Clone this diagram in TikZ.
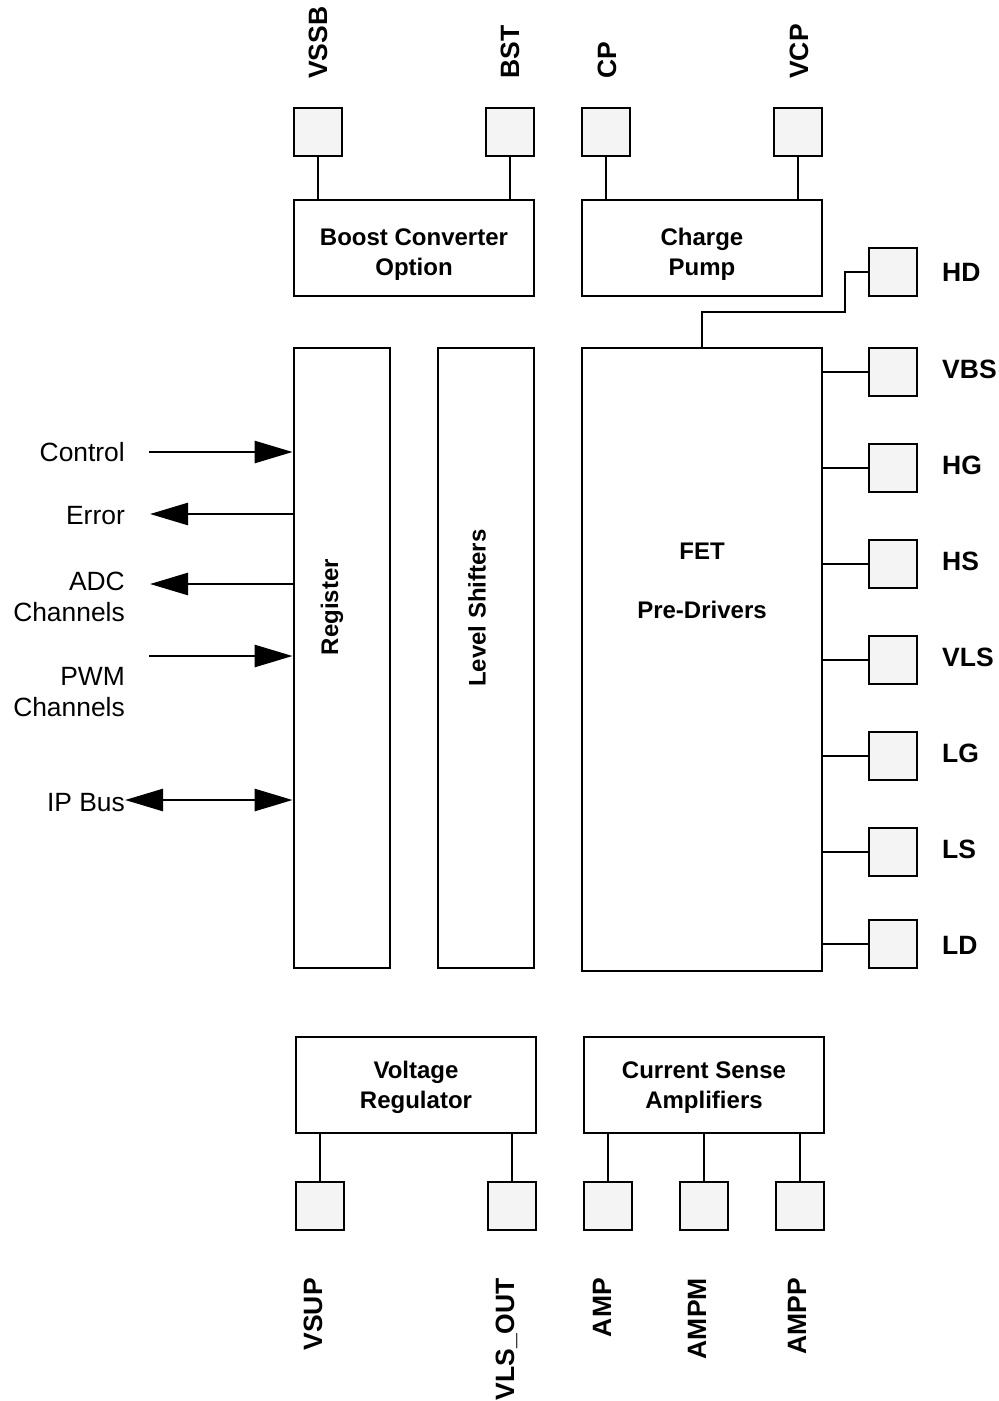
\documentclass[tikz,border=0pt]{standalone}
\usepackage{fontspec}
\setmainfont{Liberation Sans}
\usetikzlibrary{arrows.meta}
\definecolor{pinfill}{HTML}{F4F4F4}
\begin{document}
\begin{tikzpicture}[x=1pt,y=-1pt,
  blk/.style={draw, line width=2.8pt, inner sep=0pt},
  btxt/.style={inner sep=0pt, align=center, font=\fontsize{24}{30}\selectfont\bfseries},
  pin/.style={draw, line width=2.2pt, fill=pinfill, minimum size=48pt, inner sep=0pt},
  plbl/.style={inner sep=0pt, font=\fontsize{26.5}{30}\selectfont\bfseries},
  lbl/.style={inner sep=0pt, align=right, font=\fontsize{26.4}{31}\selectfont},
  wire/.style={line width=2pt},
  sig/.style={line width=2.6pt},
  bigtri/.tip={Triangle[length=38pt,width=22pt]}
]
\fill[white] (0,0) rectangle (999,1401);
\path[use as bounding box] (0,0) rectangle (999,1401);

% main blocks
\node[blk, minimum width=240pt, minimum height=96pt] (boost) at (414,248) {};
\node[blk, minimum width=240pt, minimum height=96pt] (charge) at (702,248) {};
\node[blk, minimum width=96pt, minimum height=620pt] (register) at (342,658) {};
\node[blk, minimum width=96pt, minimum height=620pt] (level) at (486,658) {};
\node[blk, minimum width=240pt, minimum height=623pt] (fet) at (702,659.5) {};
\node[blk, minimum width=240pt, minimum height=96pt] (vreg) at (416,1085) {};
\node[blk, minimum width=240pt, minimum height=96pt] (csa) at (704,1085) {};

\node[btxt] (boosttxt) at (414,254.5) {Boost Converter\\Option};
\node[btxt] (chargetxt) at (702,254.5) {Charge\\Pump};
\node[btxt] (vregtxt) at (416,1087.5) {Voltage\\Regulator};
\node[btxt] (csatxt) at (704,1087.5) {Current Sense\\Amplifiers};
\node[btxt, rotate=90] (regtxt) at (332,607) {Register};
\node[btxt, rotate=90] (lvltxt) at (477,608) {Level Shifters};
\node[btxt] (fettxt) at (702,581) {FET\\[29pt]Pre-Drivers};

% top pins
\node[pin] (vssb) at (318,132) {};
\node[pin] (bst) at (510,132) {};
\node[pin] (cp) at (606,132) {};
\node[pin] (vcp) at (798,132) {};
\draw[wire] (vssb.south) -- (vssb.south |- boost.north);
\draw[wire] (bst.south) -- (bst.south |- boost.north);
\draw[wire] (cp.south) -- (cp.south |- charge.north);
\draw[wire] (vcp.south) -- (vcp.south |- charge.north);
\node[plbl, rotate=90, anchor=base west] (lvssb) at (327,79) {VSSB};
\node[plbl, rotate=90, anchor=base west] (lbst) at (519,79) {BST};
\node[plbl, rotate=90, anchor=base west] (lcp) at (616,79) {CP};
\node[plbl, rotate=90, anchor=base west] (lvcp) at (808,79) {VCP};

% right pins
\node[pin] (hd) at (893,272) {};
\node[pin] (vbs) at (893,372) {};
\node[pin] (hg) at (893,468) {};
\node[pin] (hs) at (893,564) {};
\node[pin] (vls) at (893,660) {};
\node[pin] (lg) at (893,756) {};
\node[pin] (ls) at (893,852) {};
\node[pin] (ld) at (893,944) {};
\draw[wire] (hd.west) -| +(-23,40) -| (fet.north);
\foreach \p in {vbs,hg,hs,vls,lg,ls,ld}
  \draw[wire] (\p.west) -- (\p.west -| fet.east);
\node[plbl, anchor=base west] (lhd) at (942,281.5) {HD};
\node[plbl, anchor=base west] (lvbs) at (942,378.5) {VBS};
\node[plbl, anchor=base west] (lhg) at (942,474.5) {HG};
\node[plbl, anchor=base west] (lhs) at (942,570.5) {HS};
\node[plbl, anchor=base west] (lvls) at (942,666.5) {VLS};
\node[plbl, anchor=base west] (llg) at (942,762.5) {LG};
\node[plbl, anchor=base west] (lls) at (942,858.5) {LS};
\node[plbl, anchor=base west] (lld) at (942,954.5) {LD};

% bottom pins
\node[pin] (vsup) at (320,1206) {};
\node[pin] (vlsout) at (512,1206) {};
\node[pin] (amp) at (608,1206) {};
\node[pin] (ampm) at (704,1206) {};
\node[pin] (ampp) at (800,1206) {};
\draw[wire] (vsup.north) -- (vsup.north |- vreg.south);
\draw[wire] (vlsout.north) -- (vlsout.north |- vreg.south);
\draw[wire] (amp.north) -- (amp.north |- csa.south);
\draw[wire] (ampm.north) -- (ampm.north |- csa.south);
\draw[wire] (ampp.north) -- (ampp.north |- csa.south);
\node[plbl, rotate=90, anchor=base east] (lvsup) at (322,1278) {VSUP};
\node[plbl, rotate=90, anchor=base east] (lvlsout) at (514,1278) {VLS\_OUT};
\node[plbl, rotate=90, anchor=base east] (lamp) at (611,1278) {AMP};
\node[plbl, rotate=90, anchor=base east] (lampm) at (706,1278) {AMPM};
\node[plbl, rotate=90, anchor=base east] (lampp) at (806,1278) {AMPP};

% left signals
\node[lbl, anchor=base east] (lctrl) at (125,461.5) {Control};
\node[lbl, anchor=base east] (lerr) at (125,524.5) {Error};
\node[lbl, anchor=east] (ladc) at (125,597) {ADC\\Channels};
\node[lbl, anchor=east] (lpwm) at (125,692) {PWM\\Channels};
\node[lbl, anchor=base east] (lip) at (125,811.5) {IP Bus};

\coordinate (cctrl) at (149,452);
\coordinate (cerr) at (150,514);
\coordinate (cadc) at (150,584);
\coordinate (cpwm) at (149,656);
\draw[sig,-bigtri] (cctrl) -- (cctrl -| register.west);
\draw[sig,-bigtri] (cerr -| register.west) -- (cerr);
\draw[sig,-bigtri] (cadc -| register.west) -- (cadc);
\draw[sig,-bigtri] (cpwm) -- (cpwm -| register.west);
\draw[sig,bigtri-bigtri] (lip.east |- 0,800) -- (register.west |- 0,800);
\end{tikzpicture}
\end{document}
